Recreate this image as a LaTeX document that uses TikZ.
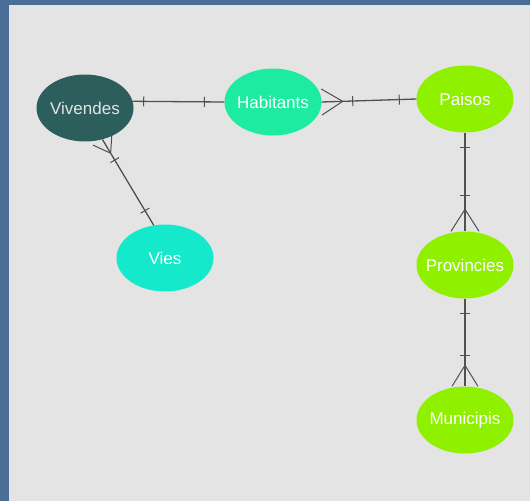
\documentclass[tikz,border=0pt]{standalone}
\usepackage{fontspec}
\setmainfont{Liberation Sans}
\usepackage{tikz}
\usetikzlibrary{shapes.geometric}
\usetikzlibrary{calc}

\definecolor{slideblue}{HTML}{4A6E98}
\definecolor{panelgray}{HTML}{E4E4E4}
\definecolor{linegray}{HTML}{505050}
\definecolor{vivfill}{HTML}{2C5F5C}
\definecolor{habfill}{HTML}{1EEBA2}
\definecolor{viesfill}{HTML}{14E9CB}
\definecolor{limefill}{HTML}{8FF000}

\begin{document}
\begin{tikzpicture}[x=1pt, y=-1pt,
    entity/.style={ellipse, minimum width=97pt, minimum height=67pt, inner sep=0pt},
    every label/.style={font=\fontsize{17}{20}\selectfont, text=white},
    link/.style={draw=linegray, line width=1.3pt},
    tickmark/.style={draw=linegray, line width=1pt}]

        \fill[slideblue] (0,0) rectangle (530,501);
        \fill[panelgray] (9,5) rectangle (530,501);

        \node[entity, fill=vivfill, label={[text=panelgray]center:Vivendes}] (viv) at (85,108) {};
        \node[entity, fill=habfill, label={center:Habitants}] (hab) at (273,102) {};
        \node[entity, fill=limefill, label={center:Paisos}] (pai) at (465,99) {};
        \node[entity, fill=viesfill, label={center:Vies}] (vies) at (165,258) {};
        \node[entity, fill=limefill, label={center:Provincies}] (prov) at (465,265) {};
        \node[entity, fill=limefill, label={center:Municipis}] (mun) at (465,420) {};

        % Vivendes -- Habitants (one to one)
        \coordinate (vh1) at (viv.8);
        \coordinate (vh2) at (hab.west);
        \draw[link] (vh1) -- (vh2);
        \draw[tickmark] ($(vh1)!11pt!(vh2)$) coordinate(t) ($(t)!5pt!90:(vh2)$) -- ($(t)!5pt!-90:(vh2)$);
        \draw[tickmark] ($(vh2)!20pt!(vh1)$) coordinate(t) ($(t)!5pt!90:(vh1)$) -- ($(t)!5pt!-90:(vh1)$);

        % Habitants -- Paisos (many to one)
        \coordinate (hp1) at (hab.east);
        \coordinate (hp2) at (pai.west);
        \draw[link] (hp1) -- (hp2);
        \draw[tickmark] ($(hp1)!21pt!(hp2)$) coordinate(t) -- ($(hp1)!13pt!90:(hp2)$) ($(t)$) -- ($(hp1)!13pt!-90:(hp2)$);
        \draw[tickmark] ($(hp1)!31pt!(hp2)$) coordinate(t) ($(t)!5pt!90:(hp2)$) -- ($(t)!5pt!-90:(hp2)$);
        \draw[tickmark] ($(hp2)!17pt!(hp1)$) coordinate(t) ($(t)!5pt!90:(hp1)$) -- ($(t)!5pt!-90:(hp1)$);

        % Vivendes -- Vies (many to one)
        \coordinate (vv1) at (viv.-61);
        \coordinate (vv2) at (vies.109);
        \draw[link] (vv1) -- (vv2);
        \draw[tickmark] ($(vv1)!16pt!(vv2)$) coordinate(t) -- ($(vv1)!11pt!90:(vv2)$) ($(t)$) -- ($(vv1)!11pt!-90:(vv2)$);
        \draw[tickmark] ($(vv1)!24pt!(vv2)$) coordinate(t) ($(t)!5pt!90:(vv2)$) -- ($(t)!5pt!-90:(vv2)$);
        \draw[tickmark] ($(vv2)!17pt!(vv1)$) coordinate(t) ($(t)!5pt!90:(vv1)$) -- ($(t)!5pt!-90:(vv1)$);

        % Paisos -- Provincies (one to many)
        \coordinate (pp1) at (pai.south);
        \coordinate (pp2) at (prov.north);
        \draw[link] (pp1) -- (pp2);
        \draw[tickmark] ($(pp1)!15pt!(pp2)$) coordinate(t) ($(t)!5pt!90:(pp2)$) -- ($(t)!5pt!-90:(pp2)$);
        \draw[tickmark] ($(pp2)!36pt!(pp1)$) coordinate(t) ($(t)!5pt!90:(pp1)$) -- ($(t)!5pt!-90:(pp1)$);
        \draw[tickmark] ($(pp2)!22pt!(pp1)$) coordinate(t) -- ($(pp2)!14pt!90:(pp1)$) ($(t)$) -- ($(pp2)!14pt!-90:(pp1)$);

        % Provincies -- Municipis (one to many)
        \coordinate (pm1) at (prov.south);
        \coordinate (pm2) at (mun.north);
        \draw[link] (pm1) -- (pm2);
        \draw[tickmark] ($(pm1)!15pt!(pm2)$) coordinate(t) ($(t)!5pt!90:(pm2)$) -- ($(t)!5pt!-90:(pm2)$);
        \draw[tickmark] ($(pm2)!31pt!(pm1)$) coordinate(t) ($(t)!5pt!90:(pm1)$) -- ($(t)!5pt!-90:(pm1)$);
        \draw[tickmark] ($(pm2)!21pt!(pm1)$) coordinate(t) -- ($(pm2)!13pt!90:(pm1)$) ($(t)$) -- ($(pm2)!13pt!-90:(pm1)$);

    \end{tikzpicture}
\end{document}
